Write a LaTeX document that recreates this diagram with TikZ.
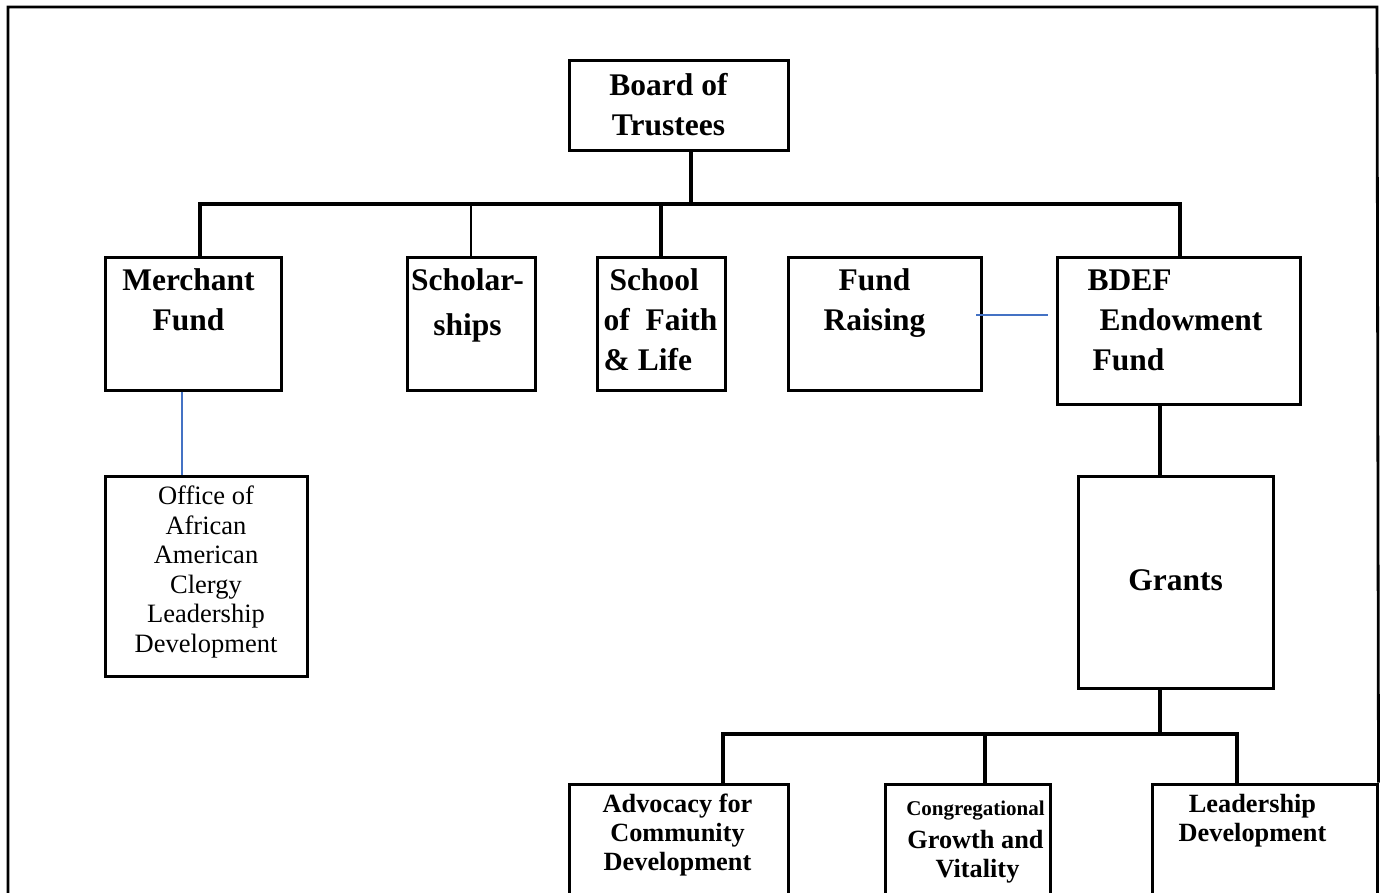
\documentclass[tikz,border=0pt]{standalone}
\usepackage{fontspec}
\setmainfont{Liberation Serif}
\definecolor{linkblue}{RGB}{68,114,196}
\tikzset{
  unitbox/.style={draw, line width=3pt, inner sep=0pt},
  bigtxt/.style={font=\fontsize{31.5}{40}\selectfont\bfseries, inner sep=0pt, align=center, anchor=center},
  midtxt/.style={font=\fontsize{26.3}{29}\selectfont\bfseries, inner sep=0pt, align=center, anchor=center},
  plaintxt/.style={font=\fontsize{26.5}{29.6}\selectfont, inner sep=0pt, align=center, anchor=center},
  conn/.style={line width=3.2pt},
  thinconn/.style={line width=1.1pt},
  blueconn/.style={draw=linkblue, line width=1.6pt},
  frame/.style={line width=2.8pt}
}

\begin{document}
\begin{tikzpicture}[x=1pt, y=-1pt]
  \useasboundingbox (0,0) rectangle (1383,892);
  \clip (0,0) rectangle (1383,892);

  \node[unitbox, minimum width=219pt, minimum height=90pt,
    label={[bigtxt, xshift=-10pt]center:{Board of\\Trustees}}] (board) at (678.5,105) {};
  \node[unitbox, minimum width=176pt, minimum height=133pt,
    label={[bigtxt, xshift=-4.5pt, yshift=23.5pt]center:{Merchant\\Fund}}] (merchant) at (193,323.5) {};
  \node[unitbox, minimum width=128pt, minimum height=133pt,
    label={[bigtxt, xshift=-3.5pt, yshift=18pt]center:{Scholar-\\[5pt]ships}}] (scholar) at (471,323.5) {};
  \node[unitbox, minimum width=128pt, minimum height=133pt,
    label={[bigtxt, align=left, anchor=west, xshift=8pt, yshift=3.5pt]west:{\hspace{6pt}School\\of~ Faith\\\& Life}}] (school) at (661,323.5) {};
  \node[unitbox, minimum width=193pt, minimum height=133pt,
    label={[bigtxt, xshift=-10pt, yshift=20.5pt]center:{Fund\\Raising}}] (raising) at (884.5,323.5) {};
  \node[unitbox, minimum width=243pt, minimum height=147pt,
    label={[bigtxt, align=left, anchor=west, xshift=32pt, yshift=10.5pt]west:{BDEF\\\hspace{12pt}Endowment\\\hspace{5pt}Fund}}] (bdef) at (1178.5,330.5) {};
  \node[unitbox, minimum width=202pt, minimum height=200pt,
    label={[plaintxt, yshift=4pt]center:{Office of\\African\\American\\Clergy\\Leadership\\Development}}] (office) at (206,576) {};
  \node[unitbox, minimum width=195pt, minimum height=212pt,
    label={[bigtxt, yshift=2pt]center:{Grants}}] (grants) at (1175.5,582) {};
  \node[unitbox, minimum width=219pt, minimum height=200pt,
    label={[midtxt, xshift=-1pt, yshift=49pt]center:{Advocacy for\\Community\\Development}}] (advocacy) at (678.5,884) {};
  \node[unitbox, minimum width=165pt, minimum height=200pt,
    label={[midtxt, xshift=8pt, yshift=42pt]center:{{\fontsize{21}{25}\selectfont Congregational}\\[4pt]Growth and\\\hspace{4pt}Vitality}}] (congr) at (967.5,884) {};
  \node[unitbox, minimum width=225pt, minimum height=200pt,
    label={[midtxt, xshift=-12pt, yshift=63.5pt]center:{Leadership\\Development}}] (leader) at (1264.5,884) {};

  \draw[frame] (8,900) -- (8,7) -- (1377,7) -- (leader.north east);

  \coordinate (busL) at (200,204);
  \coordinate (busR) at (1180,204);
  \coordinate (bdrop) at ([xshift=12.5pt]board.south);
  \draw[conn] (merchant.north -| busL) -- (busL) -- (busR) -- (bdef.north -| busR);
  \draw[conn] (bdrop) -- (bdrop |- busL);
  \draw[thinconn] (scholar.north) -- (scholar.north |- busL);
  \draw[conn] (school.north) -- (school.north |- busL);

  \coordinate (mo) at ([xshift=-11pt]merchant.south);
  \draw[blueconn] (mo) -- (mo |- office.north);
  \coordinate (fr) at ([xshift=-6.5pt, yshift=8.5pt]raising.east);
  \draw[blueconn, shorten >=8pt] (fr) -- (fr -| bdef.west);

  \coordinate (gdrop) at ([xshift=-18.5pt]bdef.south);
  \draw[conn] (gdrop) -- (gdrop |- grants.north);
  \coordinate (bus2L) at (723,734);
  \coordinate (bus2R) at (1237,734);
  \coordinate (cdrop) at (985,734);
  \draw[conn] (gdrop |- grants.south) -- (gdrop |- bus2L);
  \draw[conn] (advocacy.north -| bus2L) -- (bus2L) -- (bus2R) -- (leader.north -| bus2R);
  \draw[conn] (cdrop) -- (cdrop |- congr.north);
\end{tikzpicture}
\end{document}
